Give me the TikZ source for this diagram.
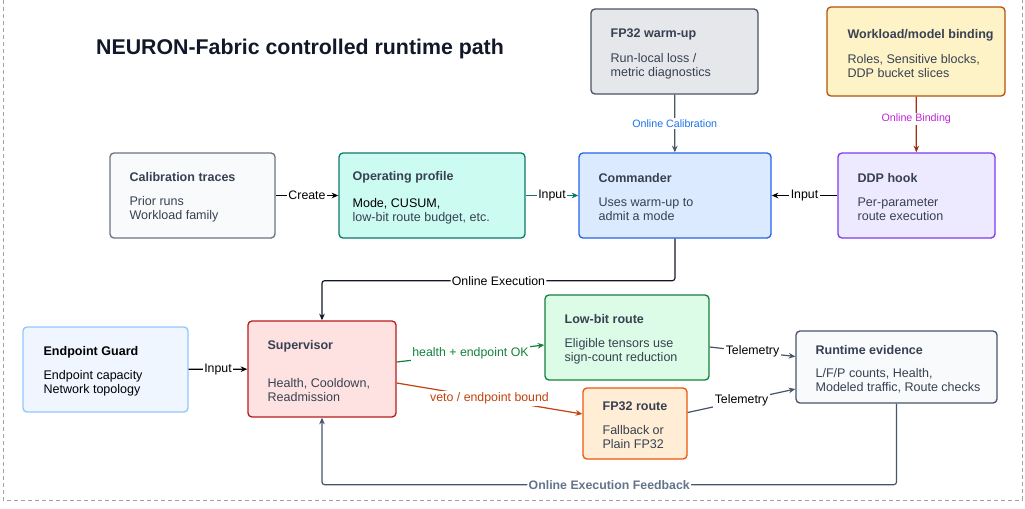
\documentclass[tikz,border=0pt]{standalone}
\usepackage{fontspec}
\setmainfont{Liberation Sans}
\usetikzlibrary{arrows.meta,calc}

\definecolor{ink}{HTML}{374151}
\definecolor{headink}{HTML}{111827}
\definecolor{warmfill}{HTML}{E5E7EB}
\definecolor{warmline}{HTML}{4B5563}
\definecolor{bindfill}{HTML}{FEF3C7}
\definecolor{bindline}{HTML}{B45309}
\definecolor{calfill}{HTML}{F8FAFC}
\definecolor{calline}{HTML}{6B7280}
\definecolor{opfill}{HTML}{CCFBF1}
\definecolor{opline}{HTML}{0F766E}
\definecolor{cmdfill}{HTML}{DBEAFE}
\definecolor{cmdline}{HTML}{2563EB}
\definecolor{ddpfill}{HTML}{EDE9FE}
\definecolor{ddpline}{HTML}{7C3AED}
\definecolor{epfill}{HTML}{EFF6FF}
\definecolor{epline}{HTML}{93C5FD}
\definecolor{supfill}{HTML}{FEE2E2}
\definecolor{supline}{HTML}{B91C1C}
\definecolor{lbfill}{HTML}{DCFCE7}
\definecolor{lbline}{HTML}{15803D}
\definecolor{fpfill}{HTML}{FFEDD5}
\definecolor{fpline}{HTML}{EA580C}
\definecolor{evfill}{HTML}{F8FAFC}
\definecolor{evline}{HTML}{475569}
\definecolor{calblue}{HTML}{1A73E8}
\definecolor{bindpink}{HTML}{C026D3}
\definecolor{bindarrow}{HTML}{9A3412}
\definecolor{okgreen}{HTML}{15803D}
\definecolor{vetored}{HTML}{C2410C}
\definecolor{slate}{HTML}{475569}
\definecolor{feedgray}{HTML}{64748B}
\definecolor{framegray}{HTML}{A1A1AA}

\begin{document}
\begin{tikzpicture}[x=0.75pt,y=-0.75pt,
		card/.style={rounded corners=3pt,line width=1pt},
		cardtext/.style={anchor=west,align=left,inner sep=0pt,yshift=-1.5pt,text=ink,font=\fontsize{9.4}{10.5}\selectfont},
		flow/.style={line width=0.9pt,-{Stealth[length=5pt,width=4.2pt]}},
		lbl/.style={fill=white,inner sep=1pt,font=\fontsize{9.25}{10.5}\selectfont}]
			\useasboundingbox (0,0) rectangle (1025,508);
			\draw [framegray,line width=0.75pt,dash pattern=on 3pt off 2.25pt] (3,0) -- (3,500) -- (1022,500) -- (1022,0);
			\node [font=\fontsize{16}{18}\selectfont\bfseries,text=headink] (title) at (300,49) {NEURON-Fabric controlled runtime path};
			% boxes
			\node [card,fill=warmfill,draw=warmline,minimum width=125.25pt,minimum height=63.75pt] (warmup) at (674.5,51.5) {};
			\node [cardtext] at ([xshift=15pt]warmup.west) {\textbf{FP32 warm-up}\\[8.25pt]Run-local loss /\\metric diagnostics};
			\node [card,fill=bindfill,draw=bindline,minimum width=133.5pt,minimum height=66.75pt] (binding) at (916,51.5) {};
			\node [cardtext] at ([xshift=15.75pt]binding.west) {\textbf{Workload/model binding}\\[8.25pt]Roles, Sensitive blocks,\\DDP bucket slices};
			\node [card,fill=calfill,draw=calline,minimum width=123.75pt,minimum height=63.75pt] (calib) at (192.5,195.5) {};
			\node [cardtext] at ([xshift=15pt]calib.west) {\textbf{Calibration traces}\\[7.5pt]Prior runs\\Workload family};
			\node [card,fill=opfill,draw=opline,minimum width=139.5pt,minimum height=63.75pt] (oper) at (432,195.5) {};
			\node [cardtext] at ([xshift=10.5pt]oper.west) {\textbf{Operating profile}\\[9.75pt]\textcolor{black}{Mode, CUSUM,}\\low-bit route budget, etc.};
			\node [card,fill=cmdfill,draw=cmdline,minimum width=144pt,minimum height=63.75pt] (commander) at (675,195.5) {};
			\node [cardtext] at ([xshift=15pt]commander.west) {\textbf{Commander}\\[7.5pt]Uses warm-up to\\admit a mode};
			\node [card,fill=ddpfill,draw=ddpline,minimum width=117.75pt,minimum height=63.75pt] (ddp) at (916.5,195.5) {};
			\node [cardtext] at ([xshift=15pt]ddp.west) {\textbf{DDP hook}\\[7.5pt]Per-parameter\\route execution};
			\node [card,fill=epfill,draw=epline,minimum width=123.75pt,minimum height=63.75pt] (endpoint) at (105.5,369.5) {};
			\node [cardtext,text=black] at ([xshift=15.75pt]endpoint.west) {\textbf{Endpoint Guard}\\[7.5pt]Endpoint capacity\\Network topology};
			\node [card,fill=supfill,draw=supline,minimum width=111pt,minimum height=72pt] (supervisor) at (322,369) {};
			\node [cardtext] at ([xshift=15pt]supervisor.west) {\textbf{Supervisor}\\[18pt]Health, Cooldown,\\Readmission};
			\node [card,fill=lbfill,draw=lbline,minimum width=123pt,minimum height=63.75pt] (lowbit) at (627,337.5) {};
			\node [cardtext] at ([xshift=15pt]lowbit.west) {\textbf{Low-bit route}\\[7.5pt]Eligible tensors use\\sign-count reduction};
			\node [card,fill=fpfill,draw=fpline,minimum width=78pt,minimum height=53.25pt] (fproute) at (635,423.5) {};
			\node [cardtext] at ([xshift=15pt]fproute.west) {\textbf{FP32 route}\\[7.5pt]Fallback or\\Plain FP32};
			\node [card,fill=evfill,draw=evline,minimum width=150.75pt,minimum height=54pt] (evidence) at (896.5,367) {};
			\node [cardtext] at ([xshift=15pt]evidence.west) {\textbf{Runtime evidence}\\[6.75pt]L/F/P counts, Health,\\Modeled traffic, Route checks};
			% connectors
			\draw [flow,draw=warmline] (warmup) -- node[lbl,text=calblue,font=\fontsize{8}{9}\selectfont] {Online Calibration} (commander);
			\draw [flow,draw=bindarrow] (binding) -- node[lbl,pos=0.4,text=bindpink,font=\fontsize{8}{9}\selectfont] {Online Binding} (ddp);
			\draw [flow] (calib) -- node[lbl] {Create} (oper);
			\draw [flow,draw=opline] (oper) -- node[lbl] {Input} (commander);
			\draw [flow] (ddp) -- node[lbl] {Input} (commander);
			\draw [flow,draw=headink,rounded corners=2pt] (commander.south) -- ++(0,42) -| node[lbl,pos=0.25] {Online Execution} (supervisor.north);
			\draw [flow] (endpoint) -- node[lbl] {Input} (supervisor);
			\draw [flow,draw=okgreen] ($(supervisor.east)+(0,-7)$) -- node[lbl,text=okgreen] {health + endpoint OK} ($(lowbit.west)+(0,7.5)$);
			\draw [flow,draw=vetored] ($(supervisor.east)+(0,14)$) -- node[lbl,text=vetored] {veto / endpoint bound} ($(fproute.west)+(0,-9.5)$);
			\draw [flow,draw=slate] ($(lowbit.east)+(0,9.5)$) -- node[lbl] {Telemetry} ($(evidence.west)+(0,-10.5)$);
			\draw [flow,draw=slate] ($(fproute.east)+(0,-11)$) -- node[lbl] {Telemetry} ($(evidence.west)+(0,22)$);
			\draw [flow,draw=slate,rounded corners=2pt] (evidence.south) -- ++(0,81) -| node[lbl,pos=0.25,text=feedgray,font=\fontsize{9.25}{10.5}\selectfont\bfseries] {Online Execution Feedback} (supervisor.south);
		\end{tikzpicture}
\end{document}
